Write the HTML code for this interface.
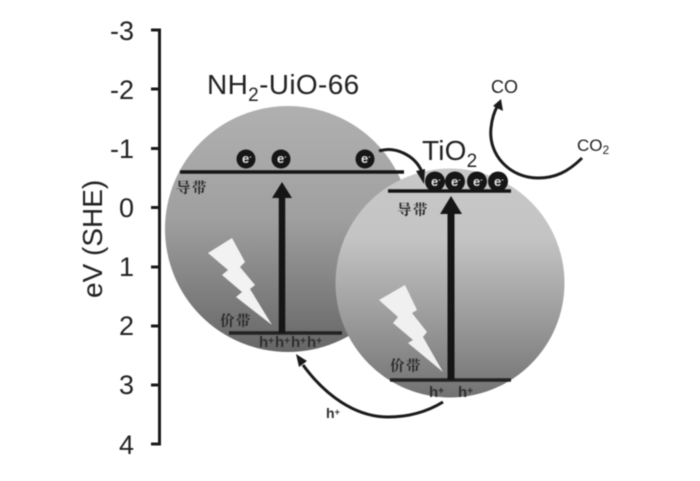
<!DOCTYPE html>
<html><head><meta charset="utf-8"><style>
html,body{margin:0;padding:0;background:#fff;width:700px;height:481px;overflow:hidden}
svg{display:block;filter:blur(.4px)}
text{font-family:"Liberation Sans",sans-serif;fill:#222}
text.cn{font-family:"Noto Serif CJK SC","Noto Sans CJK SC",serif;font-size:14.5px;font-weight:700;fill:#2a2a2a;letter-spacing:1.5px}
text.e{font-size:13px;font-weight:700;fill:#e2e2e2}
text.h{font-size:15px;font-weight:700;fill:#2e2e2e}
text.t{font-size:27px;text-anchor:end}
</style></head><body>
<svg width="700" height="481" viewBox="0 0 700 481" xmlns="http://www.w3.org/2000/svg">
<defs>
<linearGradient id="a" x1="0" y1="0" x2="0" y2="1"><stop offset="0" stop-color="#b0b0b0"/><stop offset=".45" stop-color="#a0a0a0"/><stop offset="1" stop-color="#666"/></linearGradient>
<linearGradient id="b" x1="0" y1="0" x2="0" y2="1"><stop offset="0" stop-color="#c8c8c8"/><stop offset=".3" stop-color="#c4c4c4"/><stop offset=".6" stop-color="#a2a2a2"/><stop offset="1" stop-color="#727272"/></linearGradient>
</defs>
<!-- axis -->
<path d="M151 30H159.500V444H151M151 89H160M151 148.500H160M151 207.500H160M151 267H160M151 326H160M151 385H160" fill="none" stroke="#1a1a1a" stroke-width="3"/>
<text x="134" y="40" class="t">-3</text><text x="134" y="99" class="t">-2</text><text x="134" y="158" class="t">-1</text><text x="134" y="217" class="t">0</text><text x="134" y="276" class="t">1</text><text x="134" y="335" class="t">2</text><text x="134" y="394" class="t">3</text><text x="134" y="454" class="t">4</text>
<text transform="translate(102,298) rotate(-90)" font-size="28">eV (SHE)</text>
<text x="207" y="94" font-size="28" letter-spacing=".35">NH<tspan font-size="19" dy="7">2</tspan><tspan dy="-7">-UiO-66</tspan></text>
<!-- circle 1 -->
<circle cx="288" cy="229" r="123" fill="url(#a)"/>
<path d="M180 172H404" stroke="#151515" stroke-width="3.500"/>
<path d="M229 333H342" stroke="#222" stroke-width="3.500"/>
<path d="M282 333V195" stroke="#151515" stroke-width="6.500"/>
<path d="M272 198L282 182L292 198Z" fill="#151515"/>
<g fill="#161616"><circle cx="246" cy="159" r="9.500"/><circle cx="281" cy="159" r="9.500"/><circle cx="365" cy="159" r="9.500"/></g>
<text x="242" y="163" class="e">e<tspan font-size="7" dy="-4">-</tspan></text><text x="277" y="163" class="e">e<tspan font-size="7" dy="-4">-</tspan></text><text x="361" y="163" class="e">e<tspan font-size="7" dy="-4">-</tspan></text>
<text x="176" y="193" class="cn">导带</text>
<text x="220" y="326" class="cn">价带</text>
<path d="M208 253L232 238L245 262L240 267L255 285L250 289L272 325L236 297L242 292L222 275L228 270Z" fill="#f2f2f2"/>
<text x="259" y="347" class="h">h<tspan font-size="10" dy="-3">+</tspan></text>
<text x="275" y="347" class="h">h<tspan font-size="10" dy="-3">+</tspan></text>
<text x="291" y="347" class="h">h<tspan font-size="10" dy="-3">+</tspan></text>
<text x="307" y="347" class="h">h<tspan font-size="10" dy="-3">+</tspan></text>
<!-- circle 2 -->
<circle cx="450" cy="283" r="114.500" fill="url(#b)"/>
<path d="M388 191H511" stroke="#151515" stroke-width="3.500"/>
<path d="M390 380H511" stroke="#222" stroke-width="3.500"/>
<path d="M451 380V210" stroke="#151515" stroke-width="7"/>
<path d="M440 214H462L451 196Z" fill="#151515"/>
<g fill="#161616"><circle cx="435" cy="181.500" r="10"/><circle cx="455" cy="181.500" r="10"/><circle cx="477" cy="181.500" r="10"/><circle cx="498" cy="181.500" r="10"/></g>
<text x="431" y="186" class="e">e<tspan font-size="7" dy="-4">-</tspan></text><text x="451" y="186" class="e">e<tspan font-size="7" dy="-4">-</tspan></text><text x="473" y="186" class="e">e<tspan font-size="7" dy="-4">-</tspan></text><text x="494" y="186" class="e">e<tspan font-size="7" dy="-4">-</tspan></text>
<text x="397" y="215" class="cn">导带</text>
<text x="390" y="371" class="cn">价带</text>
<path d="M379 300L405 285L417 310L412 313L427 332L423 337L443 372L408 343L413 340L393 323L398 317Z" fill="#f0f0f0"/>
<text x="429" y="397" class="h">h<tspan font-size="10" dy="-3">+</tspan></text>
<text x="458" y="397" class="h">h<tspan font-size="10" dy="-3">+</tspan></text>
<!-- arrows -->
<path d="M379 151C395 146 415 155 422 172" fill="none" stroke="#1a1a1a" stroke-width="3"/>
<path d="M416 171L425 169L424 184Z" fill="#1a1a1a"/>
<path d="M443 402C425 413 405 417 388 417C355 417 325 395 303 365" fill="none" stroke="#1a1a1a" stroke-width="3"/>
<path d="M296 354L307 361L299 367Z" fill="#1a1a1a"/>
<path d="M582 158C568 172 555 178 538 178C510 178 488 155 491 128C492 118 495 110 498 105" fill="none" stroke="#1a1a1a" stroke-width="3"/>
<path d="M493 106L501 99L503 111Z" fill="#1a1a1a"/>
<text x="422" y="160" font-size="28" letter-spacing=".2">TiO<tspan font-size="19" dy="7">2</tspan></text>
<text x="491" y="93" font-size="18">CO</text>
<text x="577" y="151" font-size="17">CO<tspan font-size="12" dy="3">2</tspan></text>
<text x="326" y="418" class="h" style="font-size:14px">h<tspan font-size="9" dy="-3">+</tspan></text>
</svg>
</body></html>
